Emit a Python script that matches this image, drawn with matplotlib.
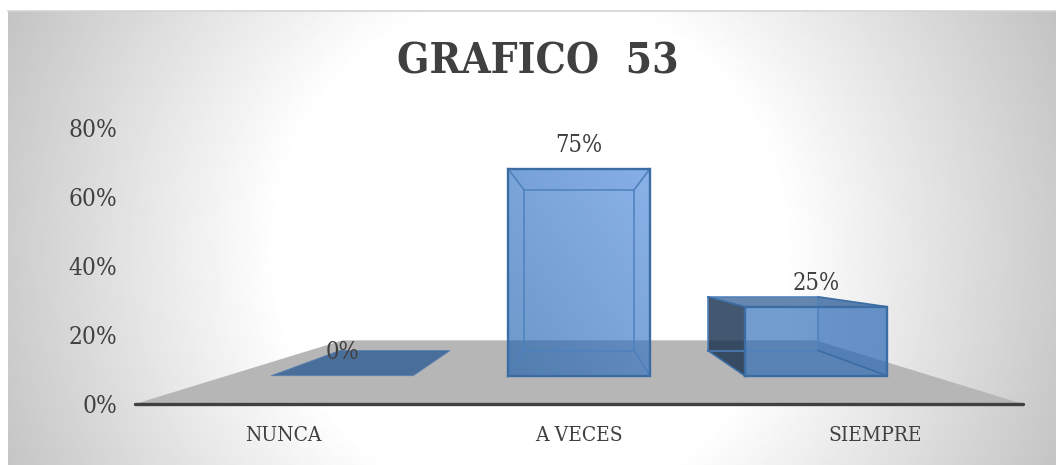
import numpy as np
import matplotlib
matplotlib.use("Agg")
import matplotlib.pyplot as plt
from matplotlib.patches import Polygon
from matplotlib.ticker import PercentFormatter
from matplotlib.font_manager import FontProperties

categories = ["NUNCA", "A VECES", "SIEMPRE"]
values = [0, 75, 25]
value_labels = ["0%", "75%", "25%"]
y_ticks = [0, 20, 40, 60, 80]
title = "GRAFICO  53"

W, H = 1056, 465
TXT = "#404040"

def serif(size, weight="normal"):
    return FontProperties(family="DejaVu Serif", stretch="condensed", weight=weight, size=size)

# perspective of the 3-D column chart
X_V, V_V = 1.0, 41.0       # vanishing point in data units
R_FRONT, R_BACK = 0.80, 0.622
HALF = 0.30

def proj(x, v, r):
    return (X_V + r * (x - X_V), V_V + r * (v - V_V))

fig = plt.figure(figsize=(W / 100, H / 100), dpi=100, facecolor="white")

# background panel with radial gradient
bg = fig.add_axes([8 / W, 0, 1 - 8 / W, 1 - 11 / H], zorder=0)
xx, yy = np.meshgrid(np.arange(8, W), np.arange(11, H))
rr = np.hypot(xx - 530, yy - 250)
gray = np.clip(1 - (rr - 255) / 340 * 0.25, 0.74, 1)
bg.imshow(gray, cmap="gray", vmin=0, vmax=1, aspect="auto", interpolation="bilinear")
bg.axis("off")
fig.add_artist(plt.Line2D([8 / W, 1], [1 - 11 / H] * 2, color="#d4d4d4", lw=1.2))

ax = fig.add_axes([135 / W, (H - 404) / H, 888 / W, 276 / H], zorder=1)
ax.patch.set_alpha(0)
xlim = (-0.5, 2.5)
ylim = (0, 80)

def gradient_poly(pts, c_tr, c_bl, alpha, z):
    """Polygon filled with a top-right to bottom-left gradient."""
    pts = np.array(pts)
    x0, x1 = pts[:, 0].min(), pts[:, 0].max()
    y0, y1 = pts[:, 1].min(), pts[:, 1].max()
    gx, gy = np.meshgrid(np.linspace(0, 1, 60), np.linspace(0, 1, 60))
    t = ((gx + gy) / 2)[..., None]
    rgb = np.array(c_bl) * (1 - t) + np.array(c_tr) * t
    img = np.dstack([rgb, np.full(gx.shape, alpha)])
    im = ax.imshow(img, extent=(x0, x1, y0, y1), origin="lower", aspect="auto",
                   zorder=z, clip_on=False, interpolation="bilinear")
    im.set_clip_path(Polygon(pts, transform=ax.transData))

def face(pts, color, alpha, z, ec="none", lw=0):
    ax.add_patch(Polygon(pts, closed=True, fc=matplotlib.colors.to_rgba(color, alpha),
                         ec=ec, lw=lw, zorder=z, clip_on=False, joinstyle="round"))

# floor
fb_y = proj(0, 0, 0.55)[1]
fb_left = X_V + 0.533 * (-0.5 - X_V)
fb_right = X_V + 0.533 * (2.5 - X_V)
face([(-0.5, 0), (2.5, 0), (fb_right, fb_y), (fb_left, fb_y)], "#b6b6b6", 1, 2)

C_TR = (0.27, 0.52, 0.86)
C_BL = (0.09, 0.36, 0.67)
EDGE = "#3b6ca3"
INNER = "#4f81bd"

for i, v in enumerate(values):
    l, r_ = i - HALF, i + HALF
    fbl, fbr = proj(l, 0, R_FRONT), proj(r_, 0, R_FRONT)
    ftl, ftr = proj(l, v, R_FRONT), proj(r_, v, R_FRONT)
    bbl, bbr = proj(l, 0, R_BACK), proj(r_, 0, R_BACK)
    btl, btr = proj(l, v, R_BACK), proj(r_, v, R_BACK)

    if v == 0:
        face([fbl, fbr, bbr, bbl], "#4a6e9a", 1, 3, ec="#5a82b4", lw=0.6)
    else:
        if i > X_V:
            # outside wall and lid of an off-centre column
            face([bbl, fbl, ftl, btl], "#1a3350", 0.82, 3)
            face([btl, btr, ftr, ftl], "#2b5a92", 0.72, 4)
            face([bbr, fbr, ftr, btr], "#2c63a8", 0.12, 4)
            face([fbl, fbr, ftr, ftl], "#2566b5", 0.64, 5)
        else:
            face([btl, btr, ftr, ftl], "#1f5aa8", 0.05, 4)
            gradient_poly([fbl, fbr, ftr, ftl], C_TR, C_BL, 0.63, 5)
        # inner wireframe
        bk = np.array([bbl, bbr, btr, btl, bbl])
        ax.plot(bk[:, 0], bk[:, 1], color=INNER, lw=1.1, zorder=6, clip_on=False)
        for a, b in [(fbl, bbl), (fbr, bbr), (ftl, btl), (ftr, btr)]:
            ax.plot([a[0], b[0]], [a[1], b[1]], color=EDGE if i > X_V else INNER,
                    lw=1.2, zorder=6, clip_on=False)
        fr = np.array([fbl, fbr, ftr, ftl, fbl])
        ax.plot(fr[:, 0], fr[:, 1], color=EDGE, lw=1.7, zorder=7, clip_on=False,
                solid_joinstyle="miter")
    ax.annotate(value_labels[i], xy=((ftl[0] + ftr[0]) / 2, ftl[1]), xytext=(0, 23.5 * 0.72),
                textcoords="offset points", ha="center", va="center",
                fontproperties=serif(17), color=TXT, zorder=10, annotation_clip=False)

ax.set_xlim(*xlim)
ax.set_ylim(*ylim)
ax.set_xticks(range(len(categories)), categories, color=TXT)
for t in ax.get_xticklabels():
    t.set_fontproperties(serif(15))
ax.set_yticks(y_ticks)
ax.yaxis.set_major_formatter(PercentFormatter(100, decimals=0))
for t in ax.get_yticklabels():
    t.set_fontproperties(serif(17.5))
    t.set_color(TXT)
ax.tick_params(axis="both", length=0)
ax.tick_params(axis="y", pad=13)
ax.tick_params(axis="x", pad=15.5)
for s in ("top", "left", "right"):
    ax.spines[s].set_visible(False)
ax.spines["bottom"].set_color("#404040")
ax.spines["bottom"].set_linewidth(2.4)
ax.spines["bottom"].set_capstyle("round")
ax.spines["bottom"].set_zorder(8)

fig.text(538 / W, 1 - 62 / H, title, ha="center", va="center",
         fontproperties=serif(30.5, "bold"), color=TXT, zorder=5)

fig.savefig("out.png", dpi=100)
